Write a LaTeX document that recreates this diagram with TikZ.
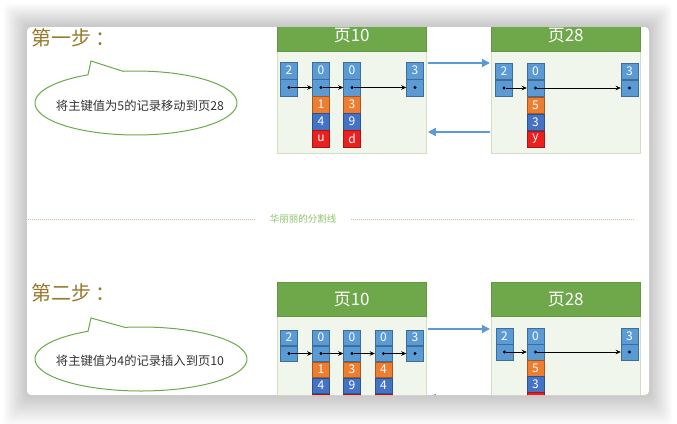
\documentclass[tikz,border=0pt]{standalone}
\usepackage{fontspec}
\setmainfont{Noto Sans CJK SC}
\usetikzlibrary{arrows.meta,calc}
\definecolor{cblue}{HTML}{5B9BD5}
\definecolor{corange}{HTML}{ED7D31}
\definecolor{cdblue}{HTML}{4472C4}
\definecolor{cred}{HTML}{EC1F1F}
\definecolor{cgreen}{HTML}{6EA84B}
\definecolor{pagebg}{HTML}{F0F6EC}
\definecolor{pageline}{HTML}{CFE0C5}
\definecolor{titlec}{HTML}{977A2F}
\definecolor{textc}{HTML}{333333}
\definecolor{divc}{HTML}{8CC36A}
\definecolor{divl}{HTML}{A8D48C}
\newcommand\mkrec[4]{%
  \node[cell=cblue] (#1t) at (#2,#3) {#4};
  \node[cell=cblue] (#1b) at (#1t.south) {};
  \node[dotn] (#1d) at (#1b.center) {};}
\newcommand\mkext[4]{\node[cell=#3] (#1) at (#2.south) {#4};}
\begin{document}
\begin{tikzpicture}[x=1pt,y=-1pt,
  cellh/.store in=\cellh, cellh=16.5pt,
  cell/.style={fill=#1, draw=#1!70!black, line width=0.5pt, minimum width=17pt,
    minimum height=\cellh, inner sep=0pt, text=white,
    font=\fontsize{12}{12}\selectfont, anchor=north},
  dotn/.style={circle, fill=black, inner sep=0pt, minimum size=3.2pt},
  ptr/.style={-{Stealth[length=5pt,width=4.5pt]}, line width=0.6pt, black},
  hdr/.style={fill=cgreen, draw=cgreen!90!black, minimum width=149pt,
    minimum height=#1, inner sep=0pt, anchor=north west, text=white,
    font=\fontsize{17}{17}\selectfont},
  pagebody/.style={fill=pagebg, draw=pageline, line width=0.8pt,
    minimum width=149pt, minimum height=#1, inner sep=0pt, anchor=north west},
  link/.style={-{Triangle[length=8pt,width=8pt]}, draw=cblue, line width=1.5pt},
  callout/.style={draw=cgreen, line width=1pt, fill=white},
  steptitle/.style={text=titlec, font=\fontsize{20}{20}\selectfont, inner sep=0pt, anchor=west},
  callouttext/.style={text=textc, font=\fontsize{12.3}{12.3}\selectfont, inner sep=0pt},
  divline/.style={draw=divl, line width=1pt, dash pattern=on 1pt off 1pt}
]
\useasboundingbox (0,0) rectangle (677,423);
\fill[white] (0,0) rectangle (677,423);
\foreach \i in {1,...,18} {
  \fill[black,opacity=0.011,rounded corners=6]
    ({27-\i*1.3},{27-\i*1.3}) rectangle ({649+\i*1.3},{395+\i*1.7});
}
\fill[white, rounded corners=4] (27,27) rectangle (649,395);
\begin{scope}
\clip[rounded corners=4] (27,27) rectangle (649,395);

% ---------------- step 1 ----------------
\node[steptitle] (t1) at (31,38) {第一步 ：};
\draw[callout] plot[domain=-457.4:-118.4, samples=120, smooth]
  ({136+101*cos(\x)},{103+32*sin(\x)}) -- (91,61) -- cycle;
\node[callouttext] (c1) at (140,106) {将主键值为5的记录移动到页28};

\node[pagebody=102pt] (p1a) at (277,51) {};
\node[hdr=32pt] (h1a) at (277,19) {页10};
\node[pagebody=102pt] (p1b) at (491,51) {};
\node[hdr=32pt] (h1b) at (491,19) {页28};

\mkrec{a1}{289}{62}{2}
\mkrec{a2}{321}{62}{0}
\mkext{a2x}{a2b}{corange}{1}
\mkext{a2y}{a2x}{cdblue}{4}
\mkext{a2z}{a2y}{cred}{u}
\mkrec{a3}{352}{62}{0}
\mkext{a3x}{a3b}{corange}{3}
\mkext{a3y}{a3x}{cdblue}{9}
\mkext{a3z}{a3y}{cred}{d}
\mkrec{a4}{415}{62}{3}
\draw[ptr] (a1d) -- (a2b.west);
\draw[ptr] (a2d) -- (a3b.west);
\draw[ptr] (a3d) -- (a4b.west);

\mkrec{b1}{504}{62.5}{2}
\mkrec{b2}{535.5}{62.5}{0}
\mkext{b2x}{b2b}{corange}{5}
\mkext{b2y}{b2x}{cdblue}{3}
\mkext{b2z}{b2y}{cred}{y}
\mkrec{b3}{629.5}{62.5}{3}
\draw[ptr] (b1d) -- (b2b.west);
\draw[ptr] (b2d) -- (b3b.west);

\coordinate (y1u) at (0,63);
\coordinate (y1d) at (0,132);
\draw[link] ([xshift=1pt]p1a.east |- y1u) -- ([xshift=-1pt]p1b.west |- y1u);
\draw[link] ([xshift=-1pt]p1b.west |- y1d) -- ([xshift=1pt]p1a.east |- y1d);

% ---------------- divider ----------------
\node[text=divc, font=\fontsize{9.5}{10}\selectfont, inner xsep=15pt, inner ysep=0pt] (dv) at (303,219) {华丽丽的分割线};
\coordinate (dl) at (28,219);
\coordinate (dr) at (634,219);
\draw[divline] (dl) -- (dv.west);
\draw[divline] (dv.east) -- (dr);

% ---------------- step 2 ----------------
\node[steptitle] (t2) at (31,293) {第二步 ：};
\draw[callout] plot[domain=-458.7:-120, samples=120, smooth]
  ({141+106*cos(\x)},{359+32*sin(\x)}) -- (91,318) -- cycle;
\node[callouttext] (c2) at (140,361) {将主键值为4的记录插入到页10};

\node[pagebody=110pt] (p2a) at (277,316) {};
\node[hdr=34pt] (h2a) at (277,282) {页10};
\node[pagebody=110pt] (p2b) at (491,316) {};
\node[hdr=34pt] (h2b) at (491,282) {页28};

\begin{scope}[cellh=15.5pt]
\mkrec{c1}{289}{329.5}{2}
\mkrec{c2}{321}{329.5}{0}
\mkext{c2x}{c2b}{corange}{1}
\mkext{c2y}{c2x}{cdblue}{4}
\mkext{c2z}{c2y}{cred}{}
\mkrec{c3}{352}{329.5}{0}
\mkext{c3x}{c3b}{corange}{3}
\mkext{c3y}{c3x}{cdblue}{9}
\mkext{c3z}{c3y}{cred}{}
\mkrec{c4}{383.5}{329.5}{0}
\mkext{c4x}{c4b}{corange}{4}
\mkext{c4y}{c4x}{cdblue}{4}
\mkext{c4z}{c4y}{cred}{}
\mkrec{c5}{415}{329.5}{3}
\draw[ptr] (c1d) -- (c2b.west);
\draw[ptr] (c2d) -- (c3b.west);
\draw[ptr] (c3d) -- (c4b.west);
\draw[ptr] (c4d) -- (c5b.west);

\mkrec{d1}{504.5}{328}{2}
\mkrec{d2}{535.5}{328}{0}
\mkext{d2x}{d2b}{corange}{5}
\mkext{d2y}{d2x}{cdblue}{3}
\mkext{d2z}{d2y}{cred}{}
\mkrec{d3}{629.5}{328}{3}
\draw[ptr] (d1d) -- (d2b.west);
\draw[ptr] (d2d) -- (d3b.west);
\end{scope}

\coordinate (y2u) at (0,329);
\coordinate (y2d) at (0,398);
\draw[link] ([xshift=1pt]p2a.east |- y2u) -- ([xshift=-1pt]p2b.west |- y2u);
\draw[link] ([xshift=-1pt]p2b.west |- y2d) -- ([xshift=1pt]p2a.east |- y2d);
\end{scope}
\end{tikzpicture}
\end{document}
